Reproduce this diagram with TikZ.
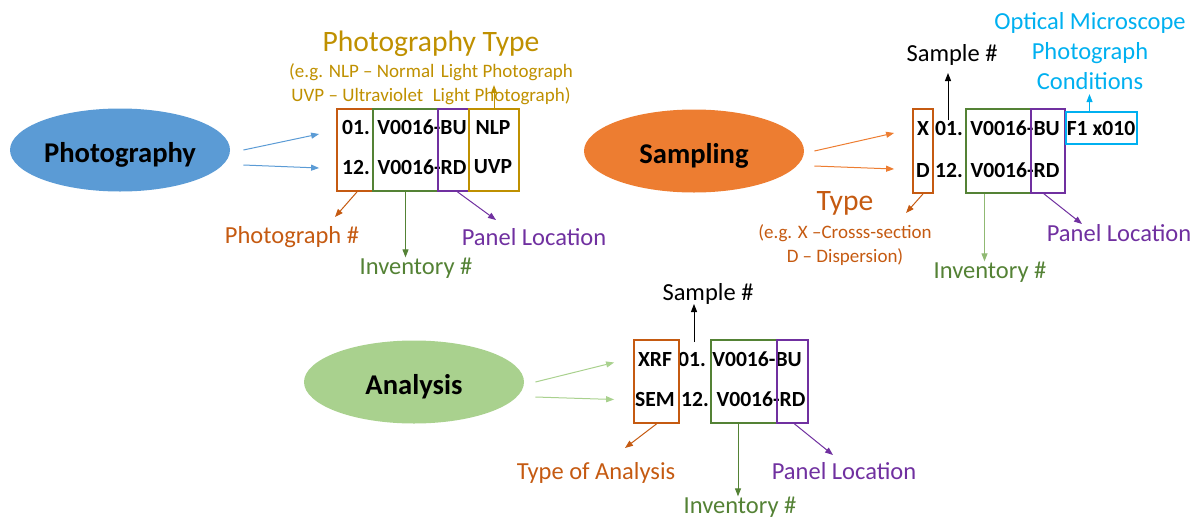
\documentclass[tikz,border=0pt]{standalone}
\usepackage{fontspec}
\setmainfont{Carlito}
\usepackage{tikz}
\usetikzlibrary{arrows.meta, positioning, shapes.geometric, fit, calc}
\definecolor{photoBlue}{HTML}{5B9BD5}
\definecolor{sampOrange}{HTML}{ED7D31}
\definecolor{anaGreen}{HTML}{A9D18E}
\definecolor{numOrange}{HTML}{C55A11}
\definecolor{invGreen}{HTML}{548235}
\definecolor{panPurple}{HTML}{7030A0}
\definecolor{typGold}{HTML}{BF9000}
\definecolor{condCyan}{HTML}{00B0F0}
\tikzset{
    procEll/.style={ellipse, inner sep=0pt, minimum width=110pt, minimum height=41.5pt, text height=12.8pt, text depth=0pt, font=\fontsize{14.3}{16}\selectfont\bfseries},
    codeTxt/.style={inner sep=0pt, font=\fontsize{10.8}{12}\selectfont\bfseries},
    fieldBox/.style={rectangle, inner sep=0pt, line width=0.9pt},
    lblTxt/.style={inner sep=0pt, align=center, font=\fontsize{12.25}{15}\selectfont},
    noteTxt/.style={inner sep=0pt, align=center, font=\fontsize{9.5}{12}\selectfont},
    titleTxt/.style={inner sep=0pt, font=\fontsize{14.8}{17}\selectfont},
    linkArr/.style={-{Triangle[length=4pt, width=3pt]}, line width=0.5pt}
}

\begin{document}
\begin{tikzpicture}[x=0.5pt, y=-0.5pt]
    \useasboundingbox (0,0) rectangle (1203,520);

    % 1. Photography
    \node[procEll, fill=photoBlue] (photo) at (120,150) {Photography};
    \foreach \row/\y/\num/\loc/\kind in {1/127/01./BU/NLP, 2/167/12./RD/UVP} {
        \node[codeTxt] (pNum\row) at (356,\y) {\num};
        \node[codeTxt] (pInv\row) at (422,\y) {V0016-\loc};
        \node[codeTxt] (pKind\row) at (493,\y) {\kind};
    }
    \node[fieldBox, draw=numOrange, fit={(337,109) (373,191)}] (pNumBox) {};
    \node[fieldBox, draw=invGreen, fit={(373,109) (438,191)}] (pInvBox) {};
    \node[fieldBox, draw=panPurple, fit={(438,109) (469,191)}] (pPanBox) {};
    \node[fieldBox, draw=typGold, fit={(469,109) (519,191)}] (pKindBox) {};

    \node[titleTxt, text=typGold] (pKindTitle) at (431,44) {Photography Type};
    \node[noteTxt, text=typGold] (pKindNote) at (431,84) {(e.g. NLP -- Normal\,\,Light Photograph\\UVP -- Ultraviolet\,\,\,Light Photograph)};
    \node[lblTxt, text=numOrange] (pNumLbl) at (292,237) {Photograph \#};
    \node[lblTxt, text=invGreen] (pInvLbl) at (416,268) {Inventory \#};
    \node[lblTxt, text=panPurple] (pPanLbl) at (534,237) {Panel Location};

    \coordinate (pNumTip) at (335,217);
    \coordinate (pPanTip) at (496,220);
    \draw[linkArr, photoBlue] ($(photo.east)+(13,0)$) -- ($(pNumBox.west)+(-17,-16)$);
    \draw[linkArr, photoBlue] ($(photo.east)+(13,15)$) -- ($(pNumBox.west)+(-17,18)$);
    \draw[linkArr, numOrange] ([xshift=1pt]pNumBox.south) -- (pNumTip);
    \draw[linkArr, invGreen] (pInvBox.south) -- (pInvBox.south |- pInvLbl.north);
    \draw[linkArr, panPurple] ([xshift=2pt]pPanBox.south) -- (pPanTip);
    \draw[linkArr, typGold] (pKindBox.north) -- ++(0,-23);

    % 2. Sampling
    \node[procEll, fill=sampOrange] (samp) at (694,151) {Sampling};
    \foreach \row/\y/\kind/\num/\loc in {1/128/X/01./BU, 2/170/D/12./RD} {
        \node[codeTxt] (sKind\row) at (923,\y) {\kind};
        \node[codeTxt] (sNum\row) at (949,\y) {\num};
        \node[codeTxt] (sInv\row) at (1015,\y) {V0016-\loc};
    }
    \node[codeTxt] (sCond) at (1101,128) {F1 x010};
    \node[fieldBox, draw=numOrange, fit={(913,109) (933,193)}] (sKindBox) {};
    \node[fieldBox, draw=invGreen, fit={(966,109) (1031,193)}] (sInvBox) {};
    \node[fieldBox, draw=panPurple, fit={(1031,109) (1065,193)}] (sPanBox) {};
    \node[fieldBox, draw=condCyan, fit={(1066,112) (1137,144)}] (sCondBox) {};

    \node[lblTxt] (sNumLbl) at (952,55) {Sample \#};
    \node[lblTxt, text=condCyan, font=\fontsize{12.25}{14.8}\selectfont] (sCondLbl) at (1090,51) {Optical Microscope\\Photograph\\Conditions};
    \node[titleTxt, text=numOrange] (sKindTitle) at (845,203) {Type};
    \node[noteTxt, text=numOrange] (sKindNote) at (845,245) {(e.g. X --Crosss-section\\D -- Dispersion)};
    \node[lblTxt, text=invGreen] (sInvLbl) at (990,272) {Inventory \#};
    \node[lblTxt, text=panPurple] (sPanLbl) at (1119,233) {Panel Location};

    \coordinate (sKindTip) at (906,213);
    \coordinate (sPanTip) at (1082,224);
    \draw[linkArr, sampOrange] ($(samp.east)+(10,0)$) -- ($(sKindBox.west)+(-18,-18)$);
    \draw[linkArr, sampOrange] ($(samp.east)+(10,15)$) -- ($(sKindBox.west)+(-18,18)$);
    \draw[linkArr] (sNum1.north -| 948,109) -- (948,73);
    \draw[linkArr, numOrange] (sKindBox.south) -- (sKindTip);
    \draw[linkArr, anaGreen!70!invGreen] ([xshift=-7pt]sInvBox.south) -- ([xshift=-7pt]sInvBox.south |- sInvLbl.north);
    \draw[linkArr, panPurple] ([xshift=-2pt]sPanBox.south) -- (sPanTip);
    \draw[linkArr, condCyan] ([xshift=-6pt]sCondBox.north) -- ++(0,-17);

    % 3. Analysis
    \node[procEll, fill=anaGreen] (ana) at (414,382) {Analysis};
    \foreach \row/\y/\kind/\num/\dx in {1/359/XRF/01./0, 2/399/SEM/12./3} {
        \node[codeTxt] (aKind\row) at (655,\y) {\kind};
        \node[codeTxt] (aNum\row) at (692+\dx,\y) {\num};
    }
    \node[codeTxt] (aInv1) at (757,359) {V0016-BU};
    \node[codeTxt] (aInv2) at (761,399) {V0016-RD};
    \node[fieldBox, draw=numOrange, fit={(634,340) (679,423)}] (aKindBox) {};
    \node[fieldBox, draw=invGreen, fit={(711,340) (777,423)}] (aInvBox) {};
    \node[fieldBox, draw=panPurple, fit={(777,340) (808,423)}] (aPanBox) {};

    \node[lblTxt] (aNumLbl) at (708,294) {Sample \#};
    \node[lblTxt, text=numOrange] (aKindLbl) at (596,473) {Type of Analysis};
    \node[lblTxt, text=invGreen] (aInvLbl) at (740,507) {Inventory \#};
    \node[lblTxt, text=panPurple] (aPanLbl) at (844,471) {Panel Location};

    \coordinate (aKindTip) at (625,448);
    \coordinate (aPanTip) at (833,455);
    \draw[linkArr, anaGreen] ($(ana.east)+(11,0)$) -- ($(aKindBox.west)+(-19,-19)$);
    \draw[linkArr, anaGreen] ($(ana.east)+(11,15)$) -- ($(aKindBox.west)+(-19,18)$);
    \draw[linkArr] (694,342) -- (694,304);
    \draw[linkArr, numOrange] (aKindBox.south) -- (aKindTip);
    \draw[linkArr, invGreen] ([xshift=-3pt]aInvBox.south) -- ([xshift=-3pt]aInvBox.south |- aInvLbl.north);
    \draw[linkArr, panPurple] ([xshift=1pt]aPanBox.south) -- (aPanTip);
\end{tikzpicture}
\end{document}
